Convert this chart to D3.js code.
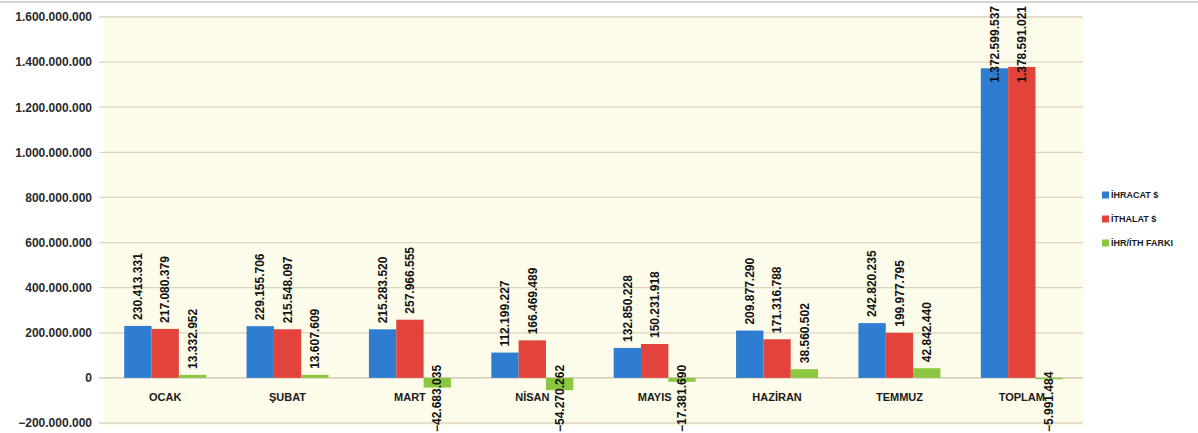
<!DOCTYPE html>
<html><head><meta charset="utf-8">
<script src="https://cdn.jsdelivr.net/npm/d3@7"></script>
<style>
html,body{margin:0;padding:0;background:#fff;}
svg{display:block;font-family:"Liberation Sans",Arial,sans-serif;}
</style></head>
<body><svg id="c" width="1198" height="433"></svg>
<script>
const categories = ["OCAK","ŞUBAT","MART","NİSAN","MAYIS","HAZİRAN","TEMMUZ","TOPLAM"];
const seriesNames = ["İHRACAT $","İTHALAT $","İHR/İTH FARKI"];
const ihracat = [230413331,229155706,215283520,112199227,132850228,209877290,242820235,1372599537];
const ithalat = [217080379,215548097,257966555,166469489,150231918,171316788,199977795,1378591021];
const fark = [13332952,13607609,-42683035,-54270262,-17381690,38560502,42842440,-5991484];
const yTicks = [-200000000,0,200000000,400000000,600000000,800000000,1000000000,1200000000,1400000000,1600000000];
const colors = ["#2e7dd1","#e2443b","#8cc83f"];

const W = 1198, H = 433;
const plot = {left:104, right:1083, top:17, bottom:423};
const svg = d3.select("#c");
const fmt = v => d3.format(",")(v).replace(/,/g,".");

const series = [ihracat, ithalat, fark];

// top frame line
svg.append("line").attr("x1",0).attr("x2",W).attr("y1",2).attr("y2",2)
  .attr("stroke","#d4d4d4").attr("stroke-width",2);

// plot background
svg.append("rect").attr("x",plot.left).attr("y",plot.top-1)
  .attr("width",plot.right-plot.left).attr("height",427-plot.top+1)
  .attr("fill","#fdfbe9");

const y = d3.scaleLinear().domain([-200000000,1600000000]).range([plot.bottom,plot.top]);
const x0 = d3.scaleBand().domain(categories).range([plot.left,plot.right]).paddingInner(0.33).paddingOuter(0.165);
const x1 = d3.scaleBand().domain([0,1,2]).range([0,x0.bandwidth()]).padding(0);

// gridlines
svg.append("g").selectAll("line").data(yTicks).join("line")
  .attr("x1",plot.left-5).attr("x2",plot.right)
  .attr("y1",d=>y(d)).attr("y2",d=>y(d))
  .attr("stroke",d=>d===0?"#c9c2ae":"#ddd5c0").attr("stroke-width",1.3);

// y axis labels
const yAxis = d3.axisLeft(y).tickValues(yTicks).tickFormat(fmt).tickSize(0).tickPadding(0);
const ya = svg.append("g").attr("transform",`translate(${plot.left-12},0)`).call(yAxis);
ya.select(".domain").remove();
ya.selectAll("text").attr("font-size",12).attr("font-weight","bold").attr("fill","#2a2a2a")
  .attr("font-family","Liberation Sans, Arial, sans-serif");

// bars
const g = svg.append("g");
categories.forEach((c,i)=>{
  series.forEach((s,j)=>{
    const v = s[i];
    g.append("rect")
      .attr("x",x0(c)+x1(j)).attr("width",x1.bandwidth())
      .attr("y",y(Math.max(0,v))).attr("height",Math.abs(y(v)-y(0)))
      .attr("fill",colors[j]);
  });
});

// category labels
svg.append("g").selectAll("text").data(categories).join("text")
  .attr("x",d=>x0(d)+x0.bandwidth()/2).attr("y",401)
  .attr("text-anchor","middle").attr("font-size",11).attr("font-weight","bold").attr("fill","#1a1a1a")
  .text(d=>d);

// data labels
const lg = svg.append("g");
categories.forEach((c,i)=>{
  series.forEach((s,j)=>{
    const v = s[i];
    const cx = x0(c)+x1(j)+x1.bandwidth()/2;
    const t = lg.append("text").attr("font-size",12).attr("font-weight","bold").attr("fill","#111")
      .attr("dy","0.35em").text(fmt(v));
    const len = t.node().getComputedTextLength();
    let start;
    if (v >= 0) {
      start = y(v) - 6;
      if (start - len < 6) start = 6 + len;
    } else {
      start = y(v) + 6 + len;
      if (start > H - 1) start = H - 1;
    }
    t.attr("transform",`translate(${cx},${start}) rotate(-90)`);
  });
});

// legend
const leg = svg.append("g");
seriesNames.forEach((n,j)=>{
  const ly = 195 + j*24;
  leg.append("rect").attr("x",1102).attr("y",ly-3.5).attr("width",7).attr("height",7).attr("fill",colors[j]);
  leg.append("text").attr("x",1111).attr("y",ly).attr("dy","0.35em")
    .attr("font-size",9).attr("font-weight","bold").attr("fill","#1a1a1a").text(n);
});
</script></body></html>
